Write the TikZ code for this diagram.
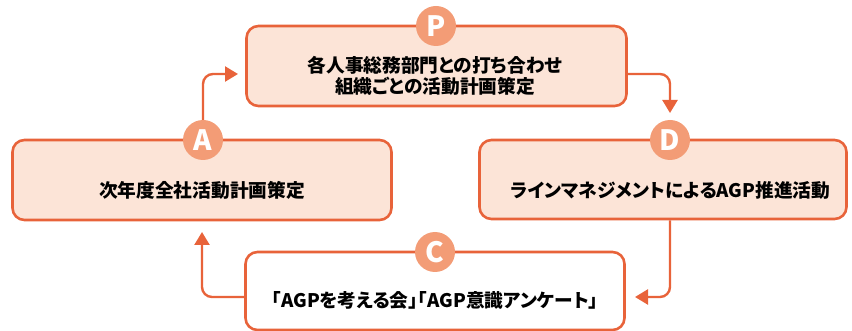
\documentclass[tikz,border=0pt]{standalone}
\usepackage{fontspec}
\setmainfont{Noto Sans CJK JP}[RawFeature=+palt]
\usetikzlibrary{arrows.meta,calc}
\definecolor{edge}{HTML}{E8633A}
\definecolor{pale}{HTML}{FCE4D7}
\definecolor{badge}{HTML}{F39C76}
\tikzset{
  stagebox/.style={draw=edge,line width=2.6pt,fill=pale,rounded corners=12pt,inner sep=0pt},
  badgecirc/.style={circle,fill=badge,minimum size=40pt,inner sep=0pt,text=white,font=\fontsize{28}{28}\selectfont\bfseries},
  stagetext/.style={font=\fontsize{18.7}{21}\selectfont\bfseries,align=center,text=black,inner sep=0pt},
  conn/.style={draw=edge,line width=2.4pt,rounded corners=10pt,-{Triangle[length=13pt,width=15pt]}}
}
\begin{document}
\begin{tikzpicture}[x=1pt,y=-1pt]
\useasboundingbox (0,0) rectangle (852,331);
% boxes
\node[stagebox,minimum width=380pt,minimum height=80pt] (Pbox) at (436.5,66) {};
\node[stagebox,minimum width=379pt,minimum height=80pt] (Abox) at (202,180) {};
\node[stagebox,minimum width=367pt,minimum height=79pt] (Dbox) at (663,179.5) {};
\node[stagebox,fill=white,minimum width=379pt,minimum height=78pt] (Cbox) at (435,291) {};
% badges
\node[badgecirc] (Pc) at (436,26) {P};
\node[badgecirc] (Ac) at (203,140) {A};
\node[badgecirc] (Dc) at (670,140) {D};
\node[badgecirc] (Cc) at (435,252) {C};
% texts
\node[stagetext] (Pt) at (435,75.5) {各人事総務部門との打ち合わせ\\組織ごとの活動計画策定};
\node[stagetext] (At) at (202,190) {次年度全社活動計画策定};
\node[stagetext] (Dt) at (670.5,190) {ラインマネジメントによるAGP推進活動};
\node[stagetext] (Ct) at (435,300) {「AGPを考える会」「AGP意識アンケート」};
% tips
\coordinate (Ptip) at (238,74);
\coordinate (Dtip) at (670,113);
\coordinate (Ctip) at (635,297);
\coordinate (Atip) at (202,232);
% connectors
\draw[conn] (Ac.north) |- (Ptip);
\draw[conn] (Pbox.east |- Ptip) -| (Dtip);
\draw[conn] (Dbox.south -| Dc.center) |- (Ctip);
\draw[conn] (Cbox.west |- Ctip) -| (Atip);
\end{tikzpicture}
\end{document}
